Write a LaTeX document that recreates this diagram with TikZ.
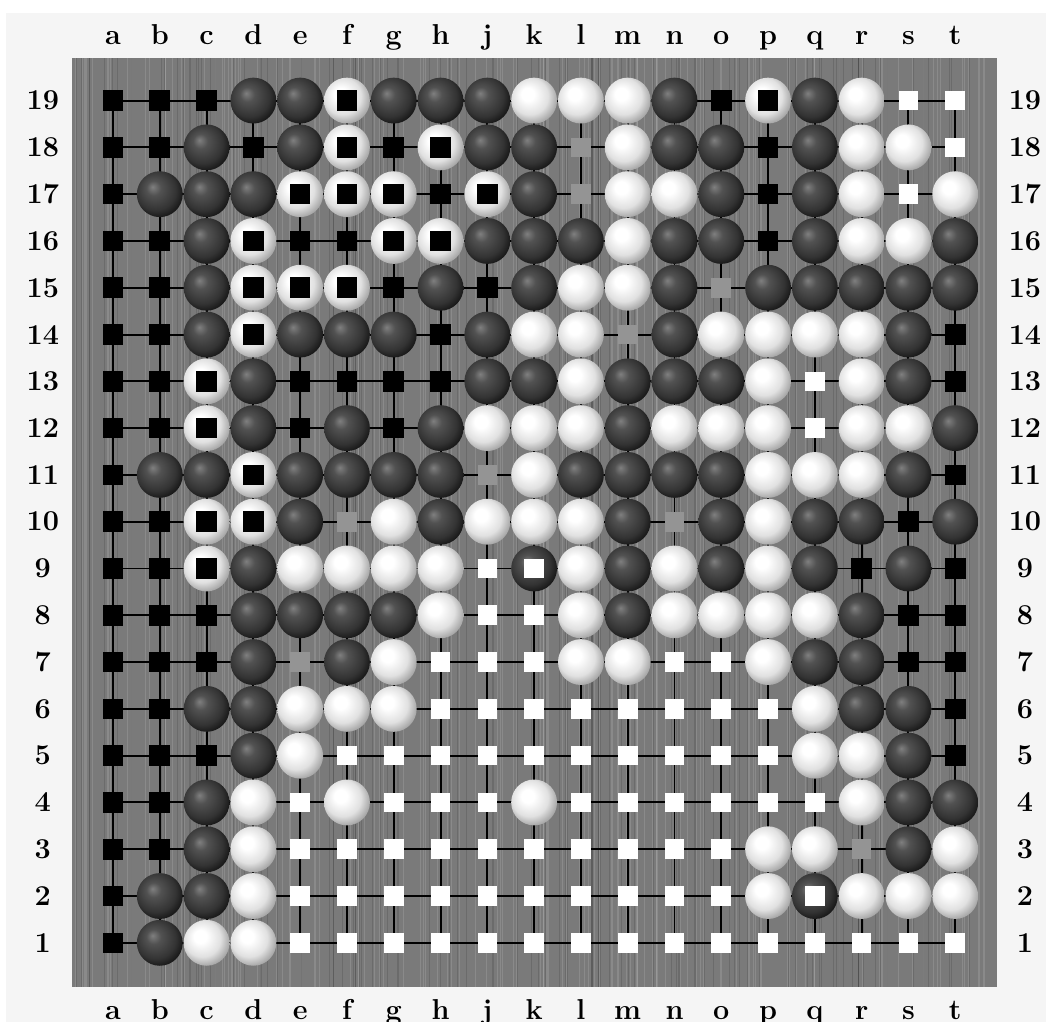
\documentclass[tikz,border=0pt]{standalone}
\usepackage{tikz}

\pgfdeclareradialshading{blackstone}{\pgfpoint{-8bp}{8bp}}{color(0bp)=(black!50); color(8bp)=(black!68); color(22bp)=(black!80); color(30bp)=(black!92); color(50bp)=(black)}
\pgfdeclareradialshading{whitestone}{\pgfpoint{-8bp}{8bp}}{color(0bp)=(white); color(7bp)=(white); color(20bp)=(black!12); color(30bp)=(black!38); color(50bp)=(black!55)}

\tikzset{
  pics/ptX/.style={code={\shade[shading=blackstone] (0,0) circle (0.49);}},
  pics/ptO/.style={code={\shade[shading=whitestone] (0,0) circle (0.49);}},
  pics/ptb/.style={code={\fill[black] (-0.22,-0.22) rectangle (0.22,0.22);}},
  pics/ptw/.style={code={\fill[white] (-0.21,-0.21) rectangle (0.21,0.21);}},
  pics/ptn/.style={code={\fill[black!42] (-0.21,-0.21) rectangle (0.21,0.21);}},
  pics/ptD/.style={code={\pic{ptO}; \pic{ptb};}},
  pics/ptK/.style={code={\pic{ptX}; \pic{ptw};}},
  coordlabel/.style={font=\fontsize{17.5}{20}\selectfont\bfseries}
}

\begin{document}
\begin{tikzpicture}
\useasboundingbox[fill=white] (-1.415,-0.688) rectangle (20.94,21.15);
\fill[black!4] (-1.286,-0.688) rectangle (20.94,20.87);
% board
\fill[black!52] (0.124,0.06) rectangle (19.89,19.91);
\pgfmathsetseed{11}
\foreach \k in {1,...,260}{
  \pgfmathsetmacro\xx{0.2+19.6*rnd}
  \pgfmathsetmacro\gg{rnd>0.5 ? 100 : 0}
  \draw[line width=0.6pt,draw=black!\gg,opacity=0.12] (\xx,0.06) -- (\xx,19.91);
}
\draw[line width=1.2pt] (1,1) grid (19,19);
% coordinates
\foreach \c [count=\i] in {a,b,c,d,e,f,g,h,j,k,l,m,n,o,p,q,r,s,t}{
  \node[coordlabel,anchor=base] (top\i) at (\i,20.19) {\c};
  \node[coordlabel,anchor=base] (bot\i) at (\i,-0.645) {\c};
}
\foreach \i in {1,...,19}{
  \node[coordlabel] (left\i) at (-0.5,\i) {\i};
  \node[coordlabel] (right\i) at (20.49,\i) {\i};
}
% stones and territory
\foreach \row/\line in {
  19/{b,b,b,X,X,D,X,X,X,O,O,O,X,b,D,X,O,w,w},
  18/{b,b,X,b,X,D,b,D,X,X,n,O,X,X,b,X,O,O,w},
  17/{b,X,X,X,D,D,D,b,D,X,n,O,O,X,b,X,O,w,O},
  16/{b,b,X,D,b,b,D,D,X,X,X,O,X,X,b,X,O,O,X},
  15/{b,b,X,D,D,D,b,X,b,X,O,O,X,n,X,X,X,X,X},
  14/{b,b,X,D,X,X,X,b,X,O,O,n,X,O,O,O,O,X,b},
  13/{b,b,D,X,b,b,b,b,X,X,O,X,X,X,O,w,O,X,b},
  12/{b,b,D,X,b,X,b,X,O,O,O,X,O,O,O,w,O,O,X},
  11/{b,X,X,D,X,X,X,X,n,O,X,X,X,X,O,O,O,X,b},
  10/{b,b,D,D,X,n,O,X,O,O,O,X,n,X,O,X,X,b,X},
  9/{b,b,D,X,O,O,O,O,w,K,O,X,O,X,O,X,b,X,b},
  8/{b,b,b,X,X,X,X,O,w,w,O,X,O,O,O,O,X,b,b},
  7/{b,b,b,X,n,X,O,w,w,w,O,O,w,w,O,X,X,b,b},
  6/{b,b,X,X,O,O,O,w,w,w,w,w,w,w,w,O,X,X,b},
  5/{b,b,b,X,O,w,w,w,w,w,w,w,w,w,w,O,O,X,b},
  4/{b,b,X,O,w,O,w,w,w,O,w,w,w,w,w,w,O,X,X},
  3/{b,b,X,O,w,w,w,w,w,w,w,w,w,w,O,O,n,X,O},
  2/{b,X,X,O,w,w,w,w,w,w,w,w,w,w,O,K,O,O,O},
  1/{b,X,O,O,w,w,w,w,w,w,w,w,w,w,w,w,w,w,w}}{
  \foreach \c [count=\i] in \line
    \pic at (\i,\row) {pt\c};
}
\end{tikzpicture}
\end{document}
